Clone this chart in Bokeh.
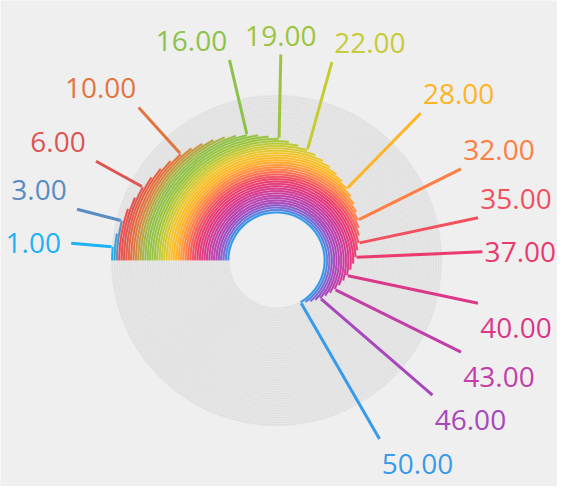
import math
from bokeh.plotting import figure
from bokeh.models import ColumnDataSource, Range1d
from bokeh.core.properties import value
from bokeh.embed import file_html
from bokeh.resources import INLINE

# ---- data -------------------------------------------------------------
values = [1, 2, 3, 4, 5, 6, 7, 8, 9, 10,
          11, 12, 13, 14, 15, 16, 17, 18, 19, 20,
          21, 22, 23, 24, 25, 26, 27, 28, 29, 30,
          31, 32, 33, 34, 35, 36, 37, 38, 39, 40,
          41, 42, 43, 44, 45, 46, 47, 48, 49, 50]
ring_total = 75  # each ring: value + grey remainder
labeled = [1, 3, 6, 10, 16, 19, 22, 28, 32, 35, 37, 40, 43, 46, 50]

# ---- styling ------------------------------------------------------------
anchor_idx = [1, 2, 3, 4, 6, 8, 10, 12, 14, 16, 19, 22, 25, 28, 30, 32,
              35, 37, 40, 43, 46, 48, 50]
anchor_col = ["#1DB2F4", "#3C9FDA", "#5A8CC4", "#EF4A48", "#DD5452",
              "#E5623F", "#E07642", "#C79843", "#A6B446", "#8DC24A",
              "#9DC43E", "#C7CB35", "#F3C52B", "#FDB425", "#FF9A35",
              "#FE7E45", "#F1505F", "#EB3A6E", "#DA3888", "#C23FA8",
              "#A747BC", "#7A6AD3", "#389BEA"]


def hex2rgb(h):
    h = h.lstrip("#")
    return tuple(int(h[k:k + 2], 16) for k in (0, 2, 4))


def color_for(i):
    for a in range(len(anchor_idx) - 1):
        i0, i1 = anchor_idx[a], anchor_idx[a + 1]
        if i0 <= i <= i1:
            t = (i - i0) / (i1 - i0)
            c0, c1 = hex2rgb(anchor_col[a]), hex2rgb(anchor_col[a + 1])
            c = [round(c0[k] + (c1[k] - c0[k]) * t) for k in range(3)]
            return "#%02x%02x%02x" % tuple(c)
    return anchor_col[-1]


W, H = 557, 486
CX, CY = 276.0, 260.0          # pie centre in figure pixels (from top-left)
hole_r = 47.0
ring_w = 2.37
leader_r = 206.0

n = len(values)
inner, outer, start, end, cols = [], [], [], [], []
for k, v in enumerate(values):
    r_in = hole_r + (n - 1 - k) * ring_w
    inner.append(r_in)
    outer.append(r_in + ring_w)
    sweep = v / ring_total * 2 * math.pi
    start.append(math.pi - sweep)
    end.append(math.pi)
    cols.append(color_for(k + 1))

src = ColumnDataSource(dict(x=[0] * n, y=[0] * n, inner=inner, outer=outer,
                            start=start, end=end, color=cols))

p = figure(width=W, height=H, output_backend="svg", toolbar_location=None,
           x_axis_type=None, y_axis_type=None,
           x_range=Range1d(-CX, W - CX), y_range=Range1d(-(H - CY), CY),
           min_border=0, background_fill_color="#efefef",
           border_fill_color="#efefef", outline_line_color=None)
p.grid.visible = False

# grey remainder of every ring
p.annular_wedge(x="x", y="y", inner_radius="inner", outer_radius="outer",
                start_angle="end", end_angle="start", direction="anticlock",
                source=src, fill_color="#e1e1e1", line_color="#ebebeb",
                line_width=0.5)
# coloured value part (clockwise from 9 o'clock)
p.annular_wedge(x="x", y="y", inner_radius="inner", outer_radius="outer",
                start_angle="start", end_angle="end", direction="anticlock",
                source=src, fill_color="color", line_color="white",
                line_alpha=0.3, line_width=0.5)

# leaders and labels
xs, ys, lx, ly, txt, tcol, xo, yo = [], [], [], [], [], [], [], []
for v in labeled:
    k = values.index(v)
    th = start[k]
    c, s = math.cos(th), math.sin(th)
    r0 = outer[k]
    x0, y0 = r0 * c, r0 * s
    x1, y1 = leader_r * c, leader_r * s
    xs.append([x0, x1])
    ys.append([y0, y1])
    lx.append(x1)
    ly.append(y1)
    txt.append("%.2f" % v)
    tcol.append(cols[k])
    xo.append(0 if abs(c) < 0.1 else (38 if c > 0 else -38))
    yo.append(0 if abs(s) < 0.1 else (-19 if s > 0 else 25))

lsrc = ColumnDataSource(dict(xs=xs, ys=ys, color=tcol))
p.multi_line(xs="xs", ys="ys", line_color="color", line_width=3, source=lsrc)

tsrc = ColumnDataSource(dict(x=lx, y=ly, text=txt, color=tcol, xo=xo, yo=yo))
p.text(x="x", y="y", text="text", text_color="color", x_offset="xo",
       y_offset="yo", text_align="center", text_baseline="alphabetic",
       text_font=value("Open Sans"), text_font_size="28px", source=tsrc)

open("out.html", "w").write(file_html(p, INLINE))
